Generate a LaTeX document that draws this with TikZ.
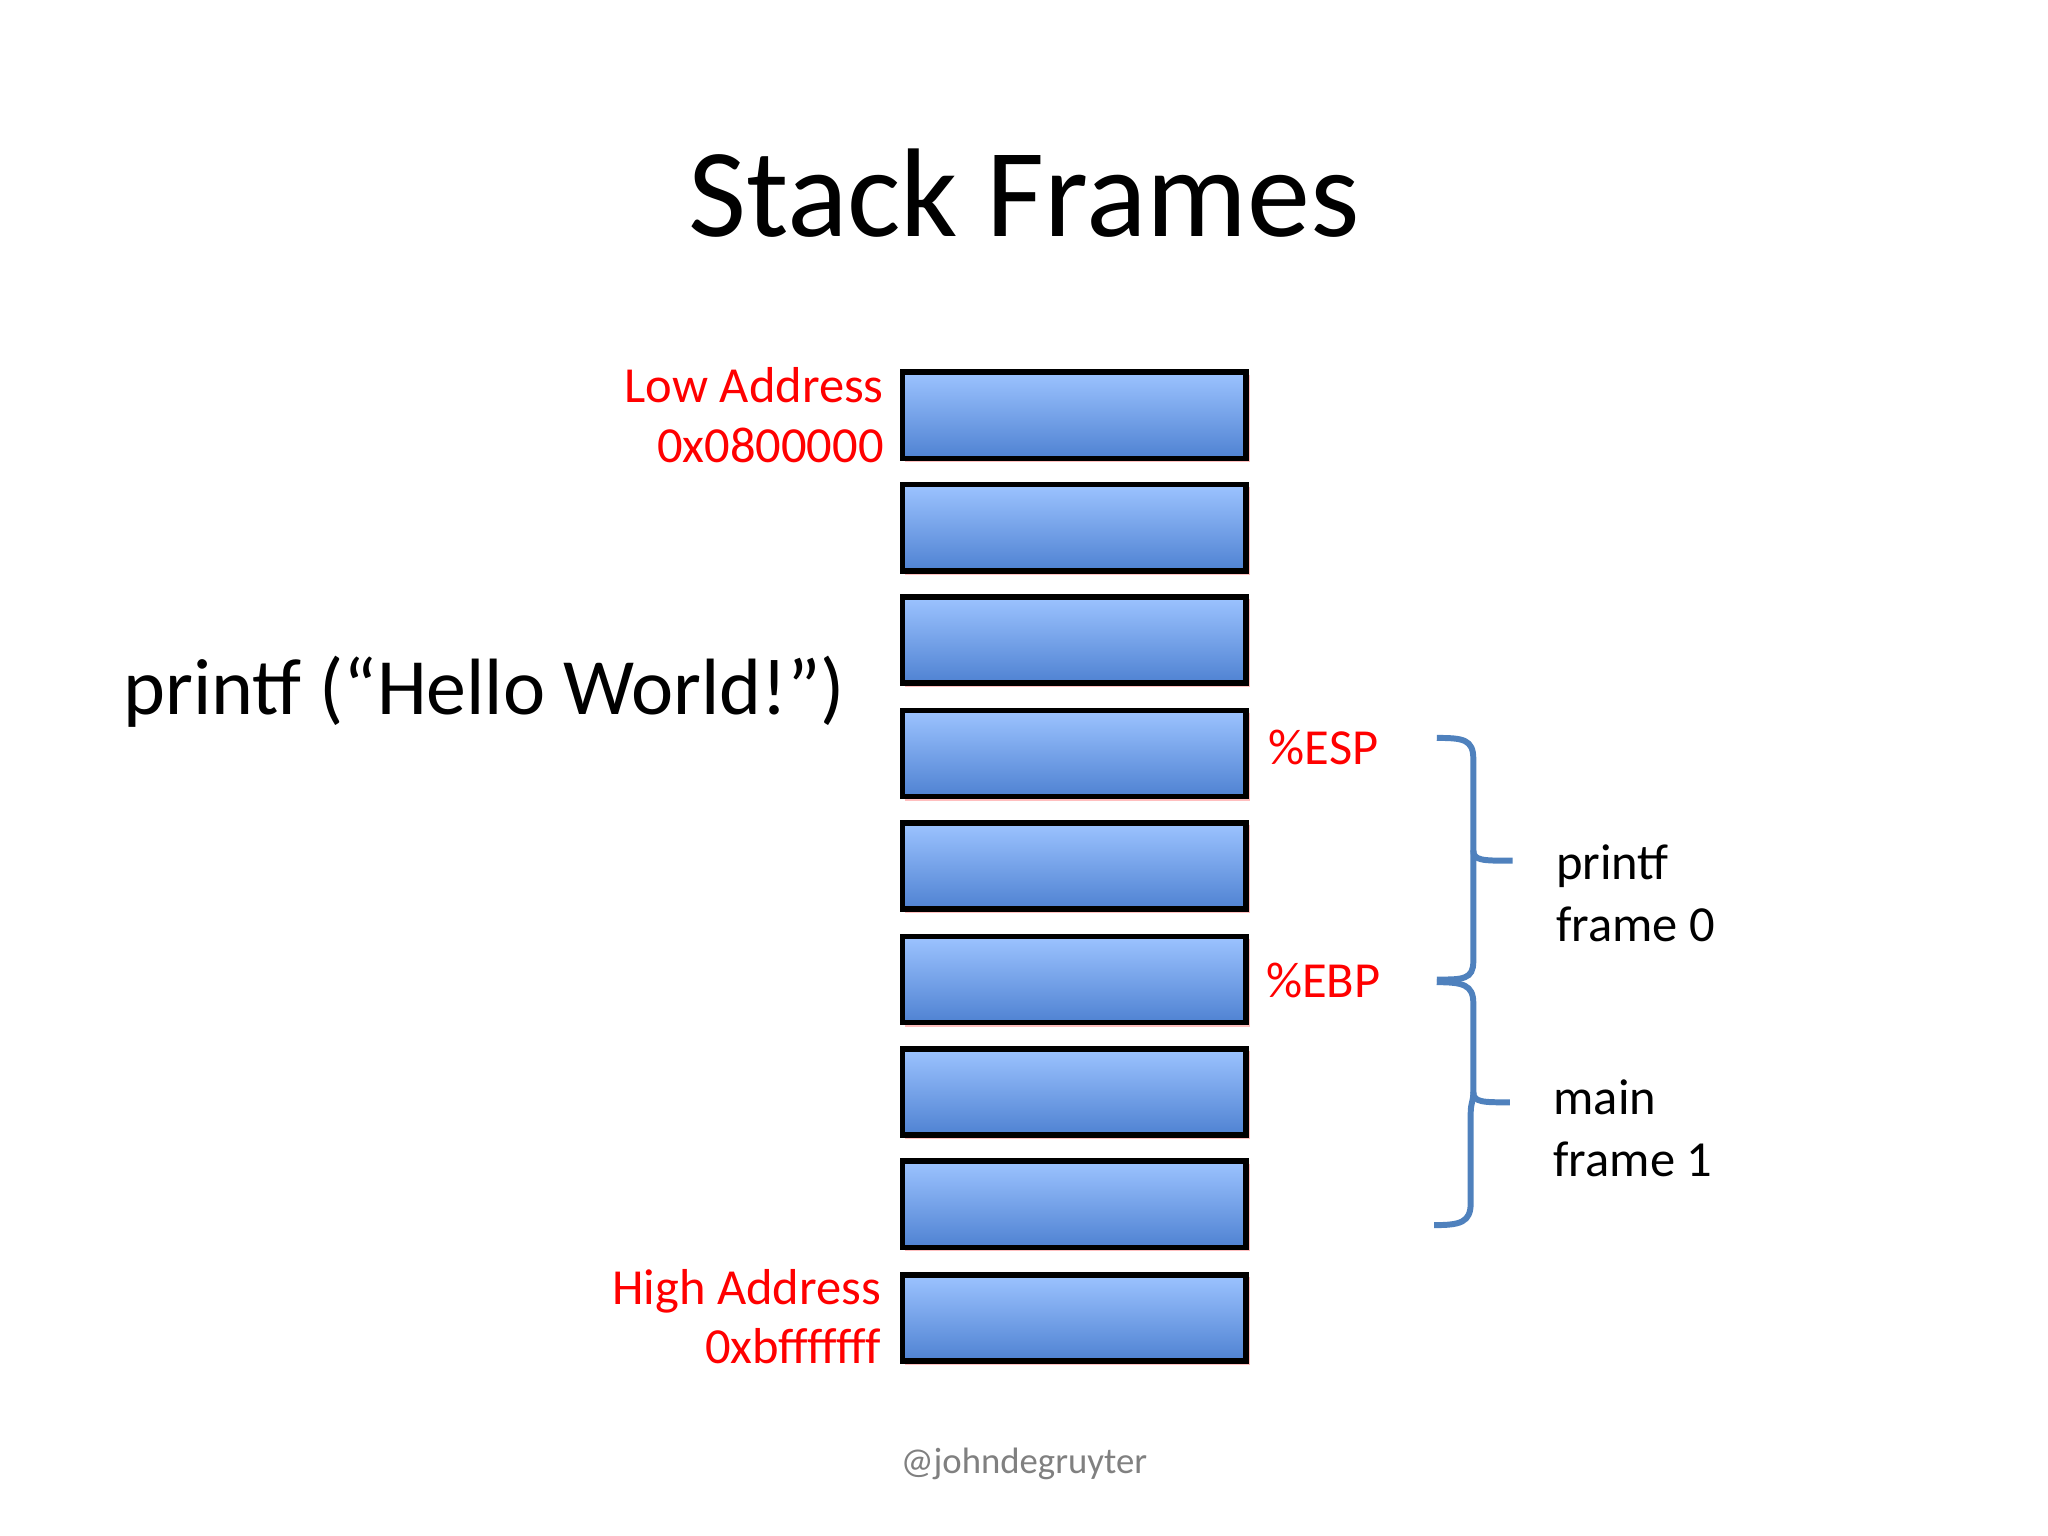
\documentclass[tikz,border=0pt]{standalone}
\usepackage{fontspec}
\setmainfont{Carlito}
\usetikzlibrary{calc}
\definecolor{slotTop}{HTML}{9CC3FF}
\definecolor{slotBot}{HTML}{4F82D2}
\definecolor{braceBlue}{HTML}{4F81BD}
\newcommand{\slot}[2]{\fill[red!25] ( 6.93 , #1 - 0.03 ) rectangle ( 9.57 , #1 + 0.64 ); \shade[top color=slotTop, bottom color=slotBot, draw=black, very thick] ( 6.91 , #1 ) rectangle ( 9.54 , #1 + 0.66 ); \coordinate (#2) at ( 9.54 , #1 + 0.33 );}
\begin{document}
\begin{tikzpicture}[x=1cm,y=1cm,
  addr/.style={red, font=\fontsize{11}{13}\selectfont, align=right, anchor=east},
  reg/.style={red, font=\fontsize{11}{13}\selectfont, anchor=west},
  lbl/.style={font=\fontsize{11}{13.4}\selectfont, align=left, anchor=west},
  brace/.style={braceBlue, line width=1.3pt}]
    \useasboundingbox (0,0) rectangle (15.68,11.76);
    % title
    \node[font=\fontsize{27.5}{32}\selectfont] (title) at (7.84,10.28) {Stack Frames};
    % stack slots
    \slot{8.25}{s1}
    \slot{7.39}{s2}
    \slot{6.53}{s3}
    \slot{5.66}{s4}
    \slot{4.80}{s5}
    \slot{3.93}{s6}
    \slot{3.07}{s7}
    \slot{2.21}{s8}
    \slot{1.34}{s9}
    % labels
    \node[addr] (low) at (6.89,8.58) {Low Address\\0x0800000};
    \node[addr] (high) at (6.87,1.68) {High Address\\0xbfffffff};
    \node[font=\fontsize{17.4}{21}\selectfont, anchor=west] (call) at (0.82,6.46) {printf (“Hello World!”)};
    \node[reg] (esp) at (9.59,6.04) {\%ESP};
    \node[reg] (ebp) at (9.57,4.25) {\%EBP};
    \node[lbl] (pf) at (11.79,4.92) {printf\\frame 0};
    \node[lbl] (mn) at (11.77,3.12) {main\\frame 1};
    % braces
    \draw[brace] (11.00,6.11) .. controls (11.20,6.11) and (11.28,6.10) .. (11.28,5.95) -- (11.28,5.25) .. controls (11.28,5.17) and (11.35,5.17) .. (11.58,5.17);
    \draw[brace] (11.28,5.25) .. controls (11.28,5.17) and (11.28,5.17) .. (11.28,5.08) -- (11.28,4.40) .. controls (11.28,4.26) and (11.20,4.26) .. (11.00,4.26);
    \draw[brace] (11.00,4.24) .. controls (11.20,4.24) and (11.28,4.22) .. (11.28,4.08) -- (11.28,3.40) .. controls (11.28,3.32) and (11.35,3.32) .. (11.56,3.32);
    \draw[brace] (11.28,3.40) .. controls (11.28,3.32) and (11.26,3.32) .. (11.26,3.24) -- (11.26,2.55) .. controls (11.26,2.40) and (11.18,2.38) .. (10.98,2.38);
    % credit
    \node[gray, font=\fontsize{8}{10}\selectfont] (credit) at (7.84,0.55) {@johndegruyter};
\end{tikzpicture}
\end{document}
